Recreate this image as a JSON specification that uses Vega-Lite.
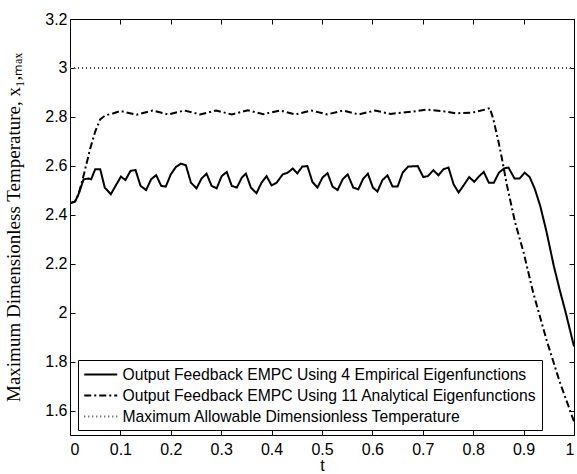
{
  "$schema": "https://vega.github.io/schema/vega-lite/v6.json",
  "autosize": "none",
  "width": 504,
  "height": 416,
  "padding": {"left": 70, "top": 19, "right": 3, "bottom": 39},
  "background": "white",
  "config": {
    "view": {"stroke": "black", "strokeWidth": 1},
    "axis": {
      "grid": false,
      "domain": false,
      "tickColor": "black",
      "tickSize": -5,
      "labelFont": "Liberation Sans",
      "labelFontSize": 16,
      "labelColor": "black",
      "titleColor": "black",
      "titleFontWeight": "normal"
    },
    "legend": {
      "orient": "none",
      "legendX": 8,
      "legendY": 341,
      "strokeColor": "black",
      "fillColor": "white",
      "padding": 5,
      "labelFont": "Liberation Sans",
      "labelFontSize": 15.7,
      "labelColor": "black",
      "labelLimit": 0,
      "labelOffset": 20.5,
      "rowPadding": 3,
      "symbolType": "M-1,0H3",
      "symbolSize": 272
    }
  },
  "data": {
    "values": [
      {"t": 0, "v": 2.447, "s": "a"},
      {"t": 0.01, "v": 2.454, "s": "a"},
      {"t": 0.017, "v": 2.484, "s": "a"},
      {"t": 0.027, "v": 2.545, "s": "a"},
      {"t": 0.037, "v": 2.548, "s": "a"},
      {"t": 0.042, "v": 2.545, "s": "a"},
      {"t": 0.05, "v": 2.586, "s": "a"},
      {"t": 0.06, "v": 2.586, "s": "a"},
      {"t": 0.069, "v": 2.511, "s": "a"},
      {"t": 0.081, "v": 2.484, "s": "a"},
      {"t": 0.091, "v": 2.52, "s": "a"},
      {"t": 0.101, "v": 2.556, "s": "a"},
      {"t": 0.11, "v": 2.542, "s": "a"},
      {"t": 0.12, "v": 2.579, "s": "a"},
      {"t": 0.13, "v": 2.583, "s": "a"},
      {"t": 0.14, "v": 2.518, "s": "a"},
      {"t": 0.151, "v": 2.501, "s": "a"},
      {"t": 0.161, "v": 2.545, "s": "a"},
      {"t": 0.171, "v": 2.562, "s": "a"},
      {"t": 0.181, "v": 2.518, "s": "a"},
      {"t": 0.19, "v": 2.515, "s": "a"},
      {"t": 0.2, "v": 2.565, "s": "a"},
      {"t": 0.21, "v": 2.595, "s": "a"},
      {"t": 0.22, "v": 2.609, "s": "a"},
      {"t": 0.23, "v": 2.602, "s": "a"},
      {"t": 0.24, "v": 2.531, "s": "a"},
      {"t": 0.251, "v": 2.508, "s": "a"},
      {"t": 0.261, "v": 2.548, "s": "a"},
      {"t": 0.271, "v": 2.568, "s": "a"},
      {"t": 0.281, "v": 2.518, "s": "a"},
      {"t": 0.291, "v": 2.508, "s": "a"},
      {"t": 0.301, "v": 2.558, "s": "a"},
      {"t": 0.311, "v": 2.575, "s": "a"},
      {"t": 0.321, "v": 2.518, "s": "a"},
      {"t": 0.331, "v": 2.511, "s": "a"},
      {"t": 0.341, "v": 2.552, "s": "a"},
      {"t": 0.349, "v": 2.568, "s": "a"},
      {"t": 0.359, "v": 2.511, "s": "a"},
      {"t": 0.37, "v": 2.488, "s": "a"},
      {"t": 0.38, "v": 2.531, "s": "a"},
      {"t": 0.39, "v": 2.558, "s": "a"},
      {"t": 0.4, "v": 2.52, "s": "a"},
      {"t": 0.41, "v": 2.531, "s": "a"},
      {"t": 0.422, "v": 2.565, "s": "a"},
      {"t": 0.432, "v": 2.572, "s": "a"},
      {"t": 0.442, "v": 2.589, "s": "a"},
      {"t": 0.451, "v": 2.569, "s": "a"},
      {"t": 0.461, "v": 2.597, "s": "a"},
      {"t": 0.471, "v": 2.599, "s": "a"},
      {"t": 0.481, "v": 2.534, "s": "a"},
      {"t": 0.491, "v": 2.511, "s": "a"},
      {"t": 0.501, "v": 2.552, "s": "a"},
      {"t": 0.511, "v": 2.57, "s": "a"},
      {"t": 0.521, "v": 2.515, "s": "a"},
      {"t": 0.531, "v": 2.501, "s": "a"},
      {"t": 0.541, "v": 2.545, "s": "a"},
      {"t": 0.551, "v": 2.565, "s": "a"},
      {"t": 0.562, "v": 2.511, "s": "a"},
      {"t": 0.572, "v": 2.504, "s": "a"},
      {"t": 0.582, "v": 2.548, "s": "a"},
      {"t": 0.591, "v": 2.568, "s": "a"},
      {"t": 0.601, "v": 2.511, "s": "a"},
      {"t": 0.61, "v": 2.495, "s": "a"},
      {"t": 0.62, "v": 2.542, "s": "a"},
      {"t": 0.63, "v": 2.561, "s": "a"},
      {"t": 0.64, "v": 2.515, "s": "a"},
      {"t": 0.65, "v": 2.515, "s": "a"},
      {"t": 0.66, "v": 2.572, "s": "a"},
      {"t": 0.671, "v": 2.597, "s": "a"},
      {"t": 0.69, "v": 2.599, "s": "a"},
      {"t": 0.701, "v": 2.554, "s": "a"},
      {"t": 0.71, "v": 2.558, "s": "a"},
      {"t": 0.721, "v": 2.582, "s": "a"},
      {"t": 0.731, "v": 2.561, "s": "a"},
      {"t": 0.741, "v": 2.586, "s": "a"},
      {"t": 0.751, "v": 2.593, "s": "a"},
      {"t": 0.761, "v": 2.525, "s": "a"},
      {"t": 0.771, "v": 2.491, "s": "a"},
      {"t": 0.781, "v": 2.52, "s": "a"},
      {"t": 0.792, "v": 2.554, "s": "a"},
      {"t": 0.802, "v": 2.535, "s": "a"},
      {"t": 0.812, "v": 2.558, "s": "a"},
      {"t": 0.821, "v": 2.575, "s": "a"},
      {"t": 0.831, "v": 2.531, "s": "a"},
      {"t": 0.841, "v": 2.531, "s": "a"},
      {"t": 0.851, "v": 2.572, "s": "a"},
      {"t": 0.861, "v": 2.589, "s": "a"},
      {"t": 0.87, "v": 2.593, "s": "a"},
      {"t": 0.882, "v": 2.548, "s": "a"},
      {"t": 0.892, "v": 2.548, "s": "a"},
      {"t": 0.902, "v": 2.572, "s": "a"},
      {"t": 0.912, "v": 2.554, "s": "a"},
      {"t": 0.922, "v": 2.507, "s": "a"},
      {"t": 0.933, "v": 2.436, "s": "a"},
      {"t": 0.945, "v": 2.335, "s": "a"},
      {"t": 0.96, "v": 2.19, "s": "a"},
      {"t": 0.972, "v": 2.09, "s": "a"},
      {"t": 0.983, "v": 2.005, "s": "a"},
      {"t": 1.0, "v": 1.862, "s": "a"},

      {"t": 0, "v": 2.447, "s": "b"},
      {"t": 0.01, "v": 2.454, "s": "b"},
      {"t": 0.017, "v": 2.484, "s": "b"},
      {"t": 0.027, "v": 2.56, "s": "b"},
      {"t": 0.04, "v": 2.67, "s": "b"},
      {"t": 0.05, "v": 2.74, "s": "b"},
      {"t": 0.06, "v": 2.79, "s": "b"},
      {"t": 0.07, "v": 2.806, "s": "b"},
      {"t": 0.085, "v": 2.814, "s": "b"},
      {"t": 0.1, "v": 2.824, "s": "b"},
      {"t": 0.132, "v": 2.809, "s": "b"},
      {"t": 0.164, "v": 2.826, "s": "b"},
      {"t": 0.195, "v": 2.81, "s": "b"},
      {"t": 0.227, "v": 2.826, "s": "b"},
      {"t": 0.258, "v": 2.81, "s": "b"},
      {"t": 0.29, "v": 2.826, "s": "b"},
      {"t": 0.321, "v": 2.81, "s": "b"},
      {"t": 0.353, "v": 2.827, "s": "b"},
      {"t": 0.384, "v": 2.811, "s": "b"},
      {"t": 0.416, "v": 2.826, "s": "b"},
      {"t": 0.447, "v": 2.81, "s": "b"},
      {"t": 0.479, "v": 2.826, "s": "b"},
      {"t": 0.51, "v": 2.81, "s": "b"},
      {"t": 0.542, "v": 2.826, "s": "b"},
      {"t": 0.573, "v": 2.81, "s": "b"},
      {"t": 0.605, "v": 2.826, "s": "b"},
      {"t": 0.636, "v": 2.812, "s": "b"},
      {"t": 0.66, "v": 2.818, "s": "b"},
      {"t": 0.678, "v": 2.821, "s": "b"},
      {"t": 0.708, "v": 2.83, "s": "b"},
      {"t": 0.737, "v": 2.824, "s": "b"},
      {"t": 0.765, "v": 2.815, "s": "b"},
      {"t": 0.797, "v": 2.817, "s": "b"},
      {"t": 0.824, "v": 2.83, "s": "b"},
      {"t": 0.833, "v": 2.836, "s": "b"},
      {"t": 0.84, "v": 2.79, "s": "b"},
      {"t": 0.85, "v": 2.7, "s": "b"},
      {"t": 0.857, "v": 2.63, "s": "b"},
      {"t": 0.867, "v": 2.52, "s": "b"},
      {"t": 0.883, "v": 2.37, "s": "b"},
      {"t": 0.9, "v": 2.246, "s": "b"},
      {"t": 0.919, "v": 2.082, "s": "b"},
      {"t": 0.946, "v": 1.885, "s": "b"},
      {"t": 0.972, "v": 1.715, "s": "b"},
      {"t": 1.0, "v": 1.555, "s": "b"},

      {"t": 0, "v": 3.0, "s": "c"},
      {"t": 1, "v": 3.0, "s": "c"}
    ]
  },
  "layer": [
    {
      "mark": {"type": "line", "clip": true},
      "encoding": {
        "x": {
          "field": "t", "type": "quantitative",
          "scale": {"domain": [0, 1], "nice": false, "zero": false},
          "axis": {"orient": "bottom", "values": [0, 0.1, 0.2, 0.3, 0.4, 0.5, 0.6, 0.7, 0.8, 0.9, 1], "labelExpr": "datum.value == 0 ? '0' : datum.value == 1 ? '1' : format(datum.value, '.1f')", "labelPadding": 11, "title": "t", "titleFont": "Liberation Sans", "titleFontSize": 16, "titlePadding": 0}
        },
        "y": {
          "field": "v", "type": "quantitative",
          "scale": {"domain": [1.5, 3.2], "nice": false, "zero": false},
          "axis": {"orient": "left", "values": [1.6, 1.8, 2, 2.2, 2.4, 2.6, 2.8, 3, 3.2], "labelExpr": "datum.value == 2 ? '2' : datum.value == 3 ? '3' : format(datum.value, '.1f')", "labelPadding": 8, "title": "Maximum Dimensionless Temperature, x₁,ₘₐₓ", "titleFont": "Liberation Serif", "titleFontSize": 19, "titlePadding": 21}
        },
        "detail": {"field": "s"},
        "strokeDash": {
          "field": "s", "type": "nominal",
          "scale": {"domain": ["a", "b", "c"], "range": [[1, 0], [7, 3, 2, 3], [1, 3]]},
          "legend": {"title": null, "labelExpr": "datum.value == 'a' ? 'Output Feedback EMPC Using 4 Empirical Eigenfunctions' : datum.value == 'b' ? 'Output Feedback EMPC Using 11 Analytical Eigenfunctions' : 'Maximum Allowable Dimensionless Temperature'"}
        },
        "strokeWidth": {
          "field": "s", "type": "nominal",
          "scale": {"domain": ["a", "b", "c"], "range": [2, 2, 1]},
          "legend": {"title": null, "labelExpr": "datum.value == 'a' ? 'Output Feedback EMPC Using 4 Empirical Eigenfunctions' : datum.value == 'b' ? 'Output Feedback EMPC Using 11 Analytical Eigenfunctions' : 'Maximum Allowable Dimensionless Temperature'"}
        },
        "color": {
          "field": "s", "type": "nominal",
          "scale": {"domain": ["a", "b", "c"], "range": ["#000000", "#000000", "#444444"]},
          "legend": {"title": null, "labelExpr": "datum.value == 'a' ? 'Output Feedback EMPC Using 4 Empirical Eigenfunctions' : datum.value == 'b' ? 'Output Feedback EMPC Using 11 Analytical Eigenfunctions' : 'Maximum Allowable Dimensionless Temperature'"}
        }
      }
    },
    {
      "mark": {"type": "line", "opacity": 0},
      "encoding": {
        "x": {
          "field": "t", "type": "quantitative",
          "axis": {"orient": "top", "values": [0, 0.1, 0.2, 0.3, 0.4, 0.5, 0.6, 0.7, 0.8, 0.9, 1], "labels": false, "title": null}
        },
        "y": {
          "field": "v", "type": "quantitative",
          "axis": {"orient": "right", "values": [1.6, 1.8, 2, 2.2, 2.4, 2.6, 2.8, 3, 3.2], "labels": false, "title": null}
        },
        "detail": {"field": "s"}
      }
    }
  ],
  "resolve": {"axis": {"x": "independent", "y": "independent"}}
}
